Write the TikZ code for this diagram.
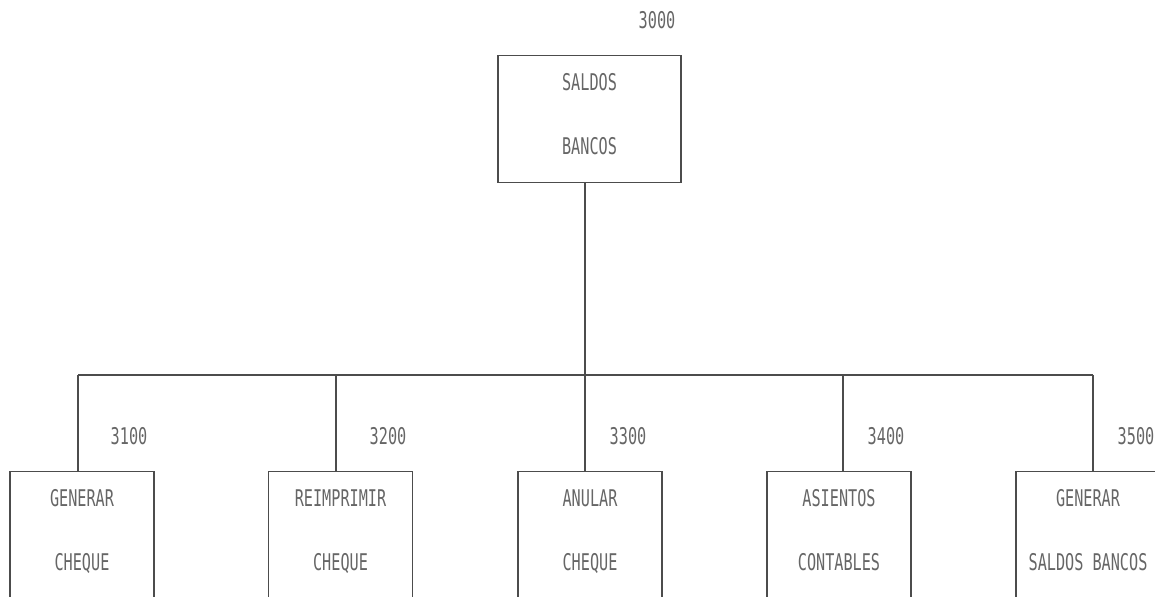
\documentclass[tikz,border=0pt]{standalone}
\usepackage{fontspec}
\newfontfamily\plotfont[FakeStretch=0.66]{DejaVu Sans Mono}
\usetikzlibrary{positioning}
\begin{document}
\begin{tikzpicture}[x=0.5pt, y=-0.5pt,
    font=\plotfont\fontsize{11.5}{14}\selectfont,
    box/.style={draw=black!70, line width=0.65pt, text=black!60, align=center, text depth=5pt,
      minimum width=72pt, minimum height=63.5pt, inner sep=0pt, anchor=north},
    num/.style={text=black!60},
    link/.style={draw=black!70, line width=0.65pt}]
      \useasboundingbox (0,0) rectangle (1155,597);

      % top level
      \node[box, minimum width=91.5pt] (saldos) at (589.5,55) {SALDOS\\[18pt]BANCOS};
      \node[num] (n3000) at (657,20) {3000};

      % second level
      \node[box] (generar) at (82,471) {GENERAR\\[18pt]CHEQUE};
      \node[box] (reimprimir) at (340.5,471) {REIMPRIMIR\\[18pt]CHEQUE};
      \node[box] (anular) at (590,471) {ANULAR\\[18pt]CHEQUE};
      \node[box] (asientos) at (839,471) {ASIENTOS\\[18pt]CONTABLES};
      \node[box] (gsaldos) at (1088,471) {GENERAR\\[18pt]SALDOS BANCOS};

      \node[num] (n3100) at (129,436) {3100};
      \node[num] (n3200) at (388,436) {3200};
      \node[num] (n3300) at (628,436) {3300};
      \node[num] (n3400) at (886,436) {3400};
      \node[num] (n3500) at (1136,436) {3500};

      % bus
      \coordinate (c1) at (78,375);
      \coordinate (c2) at (336,375);
      \coordinate (c3) at (585,375);
      \coordinate (c4) at (843,375);
      \coordinate (c5) at (1093,375);

      \draw[link] (saldos.south -| c3) -- (c3);
      \draw[link] (c1) -- (c5);
      \draw[link] (c1) -- (c1 |- generar.north);
      \draw[link] (c2) -- (c2 |- reimprimir.north);
      \draw[link] (c3) -- (c3 |- anular.north);
      \draw[link] (c4) -- (c4 |- asientos.north);
      \draw[link] (c5) -- (c5 |- gsaldos.north);

    \end{tikzpicture}
\end{document}
